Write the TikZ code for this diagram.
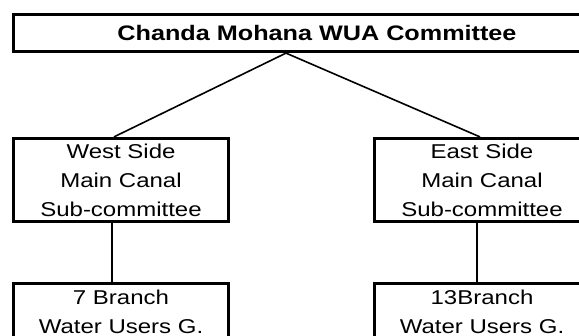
\documentclass[tikz,border=0pt]{standalone}
\usepackage{fontspec}
\setmainfont{Liberation Sans}[FakeStretch=1.2]
\usepackage{tikz}

\begin{document}
\begin{tikzpicture}[x=1pt, y=-1pt,
    unitbox/.style={draw, line width=3.2pt, align=center, inner sep=0pt,
        minimum width=215pt, font=\fontsize{20}{29}\selectfont},
    link/.style={line width=1.6pt}]
    \useasboundingbox (0,0) rectangle (579,336);
    \clip (0,0) rectangle (579,336);

    \node[unitbox, minimum width=607pt, minimum height=37pt,
        font=\fontsize{21}{29}\selectfont\bfseries] (wua) at (317,33) {Chanda Mohana WUA Committee};

    \node[unitbox, minimum height=83pt] (west) at (121,180) {West Side\\Main Canal\\Sub-committee};
    \node[unitbox, minimum height=83pt] (east) at (482,180) {East Side\\Main Canal\\Sub-committee};

    \node[unitbox, minimum height=57.6pt] (westgrp) at (121,312.3) {7 Branch\\Water Users G.};
    \node[unitbox, minimum height=57.6pt] (eastgrp) at (482,312.3) {13Branch\\Water Users G.};

    \draw[link] ([xshift=-31pt]wua.south) -- ([xshift=-7pt]west.north);
    \draw[link] ([xshift=-31pt]wua.south) -- ([xshift=-2pt]east.north);
    \draw[link] ([xshift=-9pt]west.south) -- ([xshift=-9pt]westgrp.north);
    \draw[link] ([xshift=-5pt]east.south) -- ([xshift=-5pt]eastgrp.north);
\end{tikzpicture}
\end{document}
